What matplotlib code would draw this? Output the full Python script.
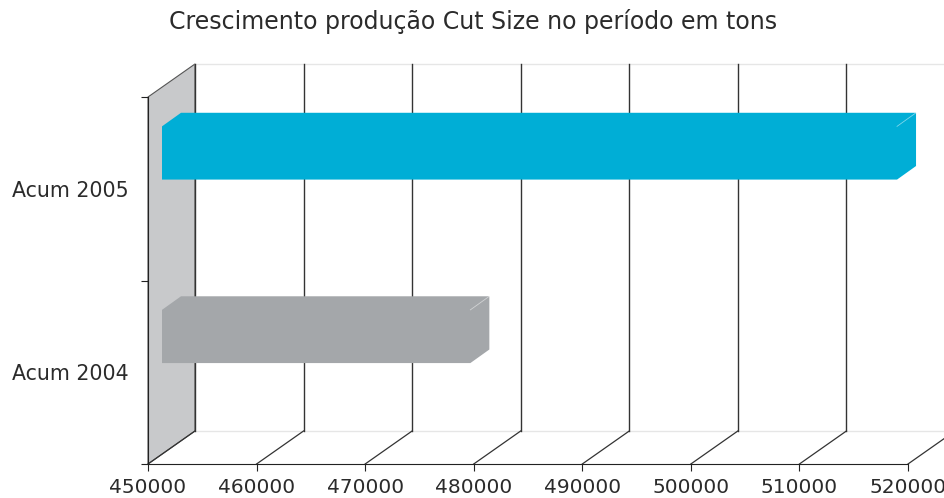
import matplotlib
matplotlib.use("Agg")
import matplotlib.pyplot as plt
from matplotlib.patches import Polygon

# data
categories = ["Acum 2004", "Acum 2005"]
values = [478400, 517700]
bar_colors = ["#a4a7aa", "#00aed6"]
x_ticks = [450000, 460000, 470000, 480000, 490000, 500000, 510000, 520000]
title = "Crescimento produção Cut Size no período em tons"

xmin, xmax = 450000, 520000
ymin, ymax = 0, len(categories)

# pseudo 3d geometry (data units)
DX = 4330      # depth of the box along x
DY = 0.18      # depth of the box along y
BAR_X0 = 1290  # front face of the bars is pushed back a little
BAR_DX = 1750
BAR_DY = 0.074
BAR_LO, BAR_HI = 0.55, 0.84

fig = plt.figure(figsize=(9.44, 4.98), dpi=100)
ax = fig.add_axes([148 / 944, 34 / 498, 760 / 944, 367 / 498])
ax.set_xlim(xmin, xmax)
ax.set_ylim(ymin, ymax)

# back wall (left side)
wall = Polygon([(xmin, ymin), (xmin, ymax), (xmin + DX, ymax + DY), (xmin + DX, ymin + DY)],
               closed=True, facecolor="#c8c9cb", edgecolor="#555555", lw=0.8, clip_on=False, zorder=1)
ax.add_patch(wall)

# back top edge and floor back edge
ax.plot([xmin + DX, xmax + DX], [ymax + DY, ymax + DY], color="#e6e6e6", lw=1, clip_on=False, zorder=1)
ax.plot([xmin + DX, xmax + DX], [ymin + DY, ymin + DY], color="#e6e6e6", lw=1, clip_on=False, zorder=1)

# grid on back wall and floor
for v in x_ticks:
    ax.plot([v + DX, v + DX], [ymin + DY, ymax + DY], color="#333333", lw=1, clip_on=False, zorder=2)
    ax.plot([v, v + DX], [ymin, ymin + DY], color="#333333", lw=0.9, clip_on=False, zorder=2)

# bars
for i, (val, col) in enumerate(zip(values, bar_colors)):
    x0 = xmin + BAR_X0
    x1 = val + BAR_X0
    y0 = i + BAR_LO
    y1 = i + BAR_HI
    outline = [(x0, y0), (x0, y1), (x0 + BAR_DX, y1 + BAR_DY), (x1 + BAR_DX, y1 + BAR_DY),
               (x1 + BAR_DX, y0 + BAR_DY), (x1, y0)]
    ax.add_patch(Polygon(outline, closed=True, facecolor=col, edgecolor="none",
                         clip_on=False, zorder=3))
    # faint highlight on the top right edge
    ax.plot([x1, x1 + BAR_DX], [y1, y1 + BAR_DY], color="white", lw=0.6, alpha=0.5,
            clip_on=False, zorder=4)

# axes
for s in ["top", "right"]:
    ax.spines[s].set_visible(False)
ax.spines["left"].set_color("#222222")
ax.spines["bottom"].set_color("#222222")
ax.spines["left"].set_zorder(5)
ax.spines["bottom"].set_zorder(5)

ax.set_xticks(x_ticks)
ax.set_xticklabels([str(v) for v in x_ticks])
ax.set_yticks([0, 1, 2])
ax.set_yticklabels([])
ax.set_yticks([0.5, 1.5], minor=True)
ax.set_yticklabels(categories, minor=True)
ax.tick_params(axis="y", which="minor", length=0, pad=14)
ax.tick_params(axis="y", which="major", length=5, color="#222222")
ax.tick_params(axis="x", length=5, color="#222222", pad=5)
for lab in ax.get_xticklabels():
    lab.set_fontsize(14.5)
    lab.set_color("#2b2b2b")
for lab in ax.get_yticklabels(minor=True):
    lab.set_fontsize(14.8)
    lab.set_color("#2b2b2b")

fig.text(473 / 944, 1 - 22 / 498, title, ha="center", va="center", fontsize=17, color="#2b2b2b")

fig.savefig("out.png", dpi=100)
